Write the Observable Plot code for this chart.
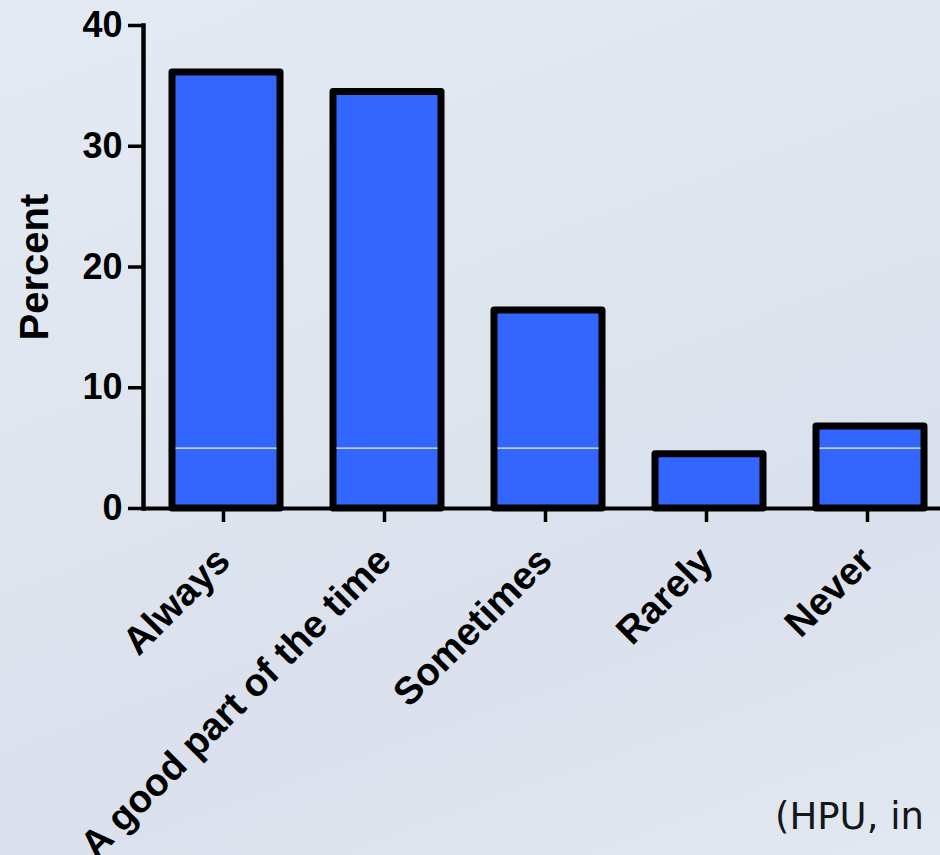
<!DOCTYPE html>
<html>
<head>
<meta charset="utf-8">
<script src="https://cdn.jsdelivr.net/npm/d3@7"></script>
<script src="https://cdn.jsdelivr.net/npm/@observablehq/plot@0.6"></script>
<style>
  html, body { margin: 0; padding: 0; width: 940px; height: 855px; overflow: hidden; }
  body {
    background: linear-gradient(160deg, #e3eaf3 0%, #dee5ef 40%, #dae1ec 70%, #e1e8f1 100%);
    position: relative;
  }
  #caption {
    position: absolute; left: 775px; top: 798px;
    font-family: "DejaVu Sans", sans-serif; font-size: 37px; color: #161616;
    line-height: 1; white-space: nowrap;
  }
</style>
</head>
<body>
<div id="chart"></div>
<div id="caption">(HPU, in</div>
<script>
const categories = ["Always", "A good part of the time", "Sometimes", "Rarely", "Never"];
const percents = [36.1, 34.5, 16.4, 4.5, 6.8];
const yTicks = [0, 10, 20, 30, 40];
const yLabel = "Percent";
const gridValue = 5;

const data = categories.map((c, i) => ({category: c, value: percents[i]}));

const font = '"Liberation Sans", Arial, sans-serif';

const plot = Plot.plot({
  width: 940,
  height: 855,
  marginTop: 25,
  marginBottom: 347,
  marginLeft: 143,
  marginRight: 0,
  style: {background: "transparent", fontFamily: font, fontWeight: "bold", color: "black"},
  x: {domain: categories, range: [117.6, 978], padding: 0.33, label: null},
  y: {domain: [0, 40], label: null},
  marks: [
    Plot.barY(data, {x: "category", y: "value", fill: "#3366ff", stroke: "black", strokeWidth: 7, strokeLinejoin: "round"}),
    Plot.tickY(data.filter(d => d.value > gridValue), {x: "category", y: () => gridValue, stroke: "#f2f2f2", strokeWidth: 1.2, inset: 3.5}),
    Plot.ruleY([0], {stroke: "black", strokeWidth: 4}),
    Plot.frame({anchor: "left", stroke: "black", strokeWidth: 4.5}),
    Plot.axisY({ticks: yTicks, tickSize: 15, tickPadding: 6, fontSize: 36, fontWeight: "bold", strokeWidth: 3.5, label: null}),
    Plot.axisX({tickRotate: -45, tickSize: 14, tickPadding: 32, dx: -3, fontSize: 38.5, fontWeight: "bold", strokeWidth: 3.5, label: null}),
    Plot.text([yLabel], {text: d => d, frameAnchor: "left", textAnchor: "middle", dx: -108, rotate: -90, fontSize: 40, fontWeight: "bold"})
  ]
});
document.getElementById("chart").appendChild(plot);
</script>
</body>
</html>
